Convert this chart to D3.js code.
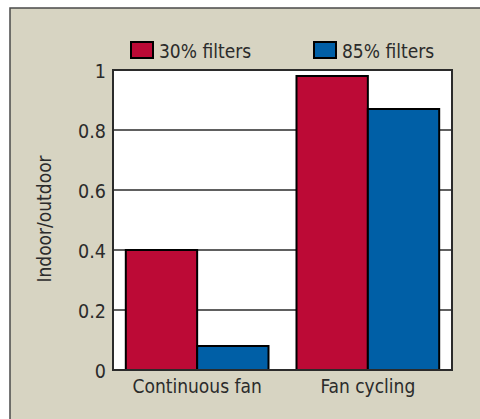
<!DOCTYPE html>
<html>
<head>
<meta charset="utf-8">
<script src="https://cdn.jsdelivr.net/npm/d3@7"></script>
<style>
  body { margin: 0; background: #fff; }
  svg text { font-family: "DejaVu Sans Condensed", "DejaVu Sans", sans-serif; font-stretch: condensed; fill: #2b2b2b; }
</style>
</head>
<body>
<div id="chart"></div>
<script>
var categories = ["Continuous fan", "Fan cycling"];
var seriesNames = ["30% filters", "85% filters"];
var filters30 = [0.40, 0.98];
var filters85 = [0.08, 0.87];
var yTicks = [0, 0.2, 0.4, 0.6, 0.8, 1];
var colors = ["#bc0a36", "#005fa6"];

var width = 480, height = 419;
var margin = {top: 70, right: 28, bottom: 49, left: 113};
var innerW = width - margin.left - margin.right,
    innerH = height - margin.top - margin.bottom;

var svg = d3.select("#chart").append("svg")
    .attr("width", width)
    .attr("height", height);

// beige panel
svg.append("rect")
    .attr("x", 10).attr("y", 8)
    .attr("width", width).attr("height", height)
    .attr("fill", "#d7d4c2")
    .attr("stroke", "#4a4a4a")
    .attr("stroke-width", 1.5);

var g = svg.append("g")
    .attr("transform", "translate(" + margin.left + "," + margin.top + ")");

var x0 = d3.scaleBand().domain(categories).range([0, innerW])
    .paddingInner(0.164).paddingOuter(0.075);
var x1 = d3.scaleBand().domain(seriesNames).range([0, x0.bandwidth()]);
var y = d3.scaleLinear().domain([0, 1]).range([innerH, 0]);

g.append("rect")
    .attr("width", innerW).attr("height", innerH)
    .attr("fill", "#fff");

// grid lines
g.selectAll(".grid")
  .data(yTicks.slice(1, -1))
  .enter().append("line")
    .attr("x1", 0).attr("x2", innerW)
    .attr("y1", function(d) { return y(d); })
    .attr("y2", function(d) { return y(d); })
    .attr("stroke", "#2b2b2b")
    .attr("stroke-width", 1.5);

var rows = categories.map(function(c, i) {
  return {cat: c, values: [filters30[i], filters85[i]]};
});

var groups = g.selectAll(".grp")
  .data(rows)
  .enter().append("g")
    .attr("transform", function(d) { return "translate(" + x0(d.cat) + ",0)"; });

groups.selectAll("rect")
  .data(function(d) { return d.values.map(function(v, j) { return {name: seriesNames[j], v: v, j: j}; }); })
  .enter().append("rect")
    .attr("x", function(d) { return x1(d.name); })
    .attr("y", function(d) { return y(d.v); })
    .attr("width", x1.bandwidth())
    .attr("height", function(d) { return innerH - y(d.v); })
    .attr("fill", function(d) { return colors[d.j]; })
    .attr("stroke", "#000")
    .attr("stroke-width", 2);

// frame
g.append("rect")
    .attr("width", innerW).attr("height", innerH)
    .attr("fill", "none")
    .attr("stroke", "#2b2b2b")
    .attr("stroke-width", 2);

// y axis
var yAxis = g.append("g")
    .call(d3.axisLeft(y).tickValues(yTicks).tickFormat(d3.format("")).tickSize(0).tickPadding(7));
yAxis.select(".domain").remove();
yAxis.selectAll("text")
    .attr("font-size", 19.5)
    .attr("dy", "0.36em");

// x axis
var xAxis = g.append("g")
    .attr("transform", "translate(0," + innerH + ")")
    .call(d3.axisBottom(x0).tickSize(0).tickPadding(10));
xAxis.select(".domain").remove();
xAxis.selectAll("text")
    .attr("font-size", 19);

// y title
svg.append("text")
    .attr("transform", "translate(51,219) rotate(-90)")
    .attr("text-anchor", "middle")
    .attr("font-size", 19)
    .text("Indoor/outdoor");

// legend
var legendX = [131, 314];
var legend = svg.selectAll(".leg")
  .data(seriesNames)
  .enter().append("g")
    .attr("transform", function(d, i) { return "translate(" + legendX[i] + ",42)"; });
legend.append("rect")
    .attr("width", 22).attr("height", 16)
    .attr("fill", function(d, i) { return colors[i]; })
    .attr("stroke", "#000")
    .attr("stroke-width", 2);
legend.append("text")
    .attr("x", 28).attr("y", 16)
    .attr("font-size", 19)
    .text(function(d) { return d; });
</script>
</body>
</html>
